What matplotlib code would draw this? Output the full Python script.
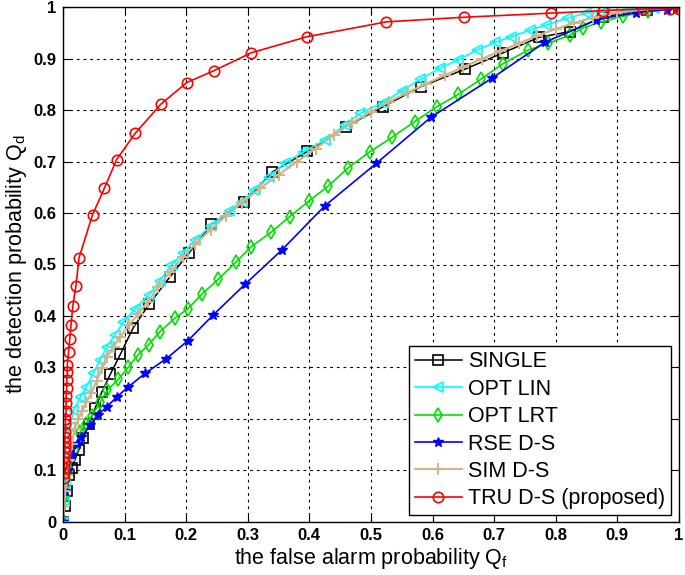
import numpy as np
import matplotlib
matplotlib.use("Agg")
import matplotlib.pyplot as plt

plt.rcParams['font.family'] = ['Liberation Sans', 'DejaVu Sans']
plt.rcParams['mathtext.fontset'] = 'custom'
plt.rcParams['mathtext.rm'] = 'Liberation Sans'
plt.rcParams['mathtext.it'] = 'Liberation Sans'

# ROC curves
single_x = [0, 0.003, 0.006, 0.01, 0.014, 0.019, 0.026, 0.033, 0.042, 0.052, 0.063, 0.077, 0.093,
            0.114, 0.14, 0.173, 0.205, 0.241, 0.294, 0.34, 0.397, 0.459, 0.52, 0.581, 0.653, 0.715,
            0.773, 0.823, 0.877, 0.948, 1.0]
single_y = [0, 0.03, 0.06, 0.09, 0.105, 0.119, 0.14, 0.163, 0.19, 0.22, 0.252, 0.287, 0.325,
            0.377, 0.423, 0.475, 0.523, 0.578, 0.621, 0.68, 0.72, 0.768, 0.807, 0.846, 0.88, 0.912,
            0.942, 0.953, 0.982, 0.995, 1.0]

optlin_x = [0, 0.001, 0.003, 0.006, 0.011, 0.017, 0.028, 0.038, 0.049, 0.06, 0.071, 0.084, 0.098,
            0.117, 0.139, 0.157, 0.176, 0.195, 0.215, 0.24, 0.27, 0.29, 0.31, 0.335, 0.36, 0.39,
            0.425, 0.458, 0.482, 0.52, 0.55, 0.58, 0.612, 0.642, 0.672, 0.701, 0.728, 0.758, 0.785,
            0.818, 0.85, 0.88, 0.92, 0.96, 1.0]
optlin_y = [0, 0.04, 0.074, 0.15, 0.184, 0.216, 0.242, 0.262, 0.288, 0.314, 0.34, 0.362, 0.388,
            0.414, 0.44, 0.468, 0.499, 0.522, 0.548, 0.575, 0.605, 0.622, 0.645, 0.67, 0.697, 0.719,
            0.742, 0.771, 0.794, 0.815, 0.838, 0.86, 0.882, 0.898, 0.917, 0.932, 0.943, 0.956, 0.966,
            0.979, 0.989, 0.993, 0.997, 0.999, 1.0]

optlrt_x = [0, 0.004, 0.01, 0.018, 0.028, 0.037, 0.047, 0.06, 0.072, 0.09, 0.106, 0.121, 0.139,
            0.157, 0.182, 0.203, 0.226, 0.252, 0.281, 0.306, 0.338, 0.368, 0.399, 0.431, 0.463,
            0.498, 0.535, 0.571, 0.607, 0.642, 0.679, 0.715, 0.755, 0.787, 0.823, 0.844, 0.874,
            0.91, 0.95, 1.0]
optlrt_y = [0, 0.05, 0.1, 0.14, 0.174, 0.19, 0.206, 0.232, 0.255, 0.277, 0.3, 0.323, 0.344,
            0.369, 0.396, 0.414, 0.443, 0.471, 0.505, 0.535, 0.563, 0.593, 0.623, 0.653, 0.688,
            0.719, 0.748, 0.778, 0.807, 0.831, 0.861, 0.891, 0.917, 0.93, 0.946, 0.96, 0.972,
            0.983, 0.993, 1.0]

rse_x = [0, 0.003, 0.008, 0.015, 0.022, 0.03, 0.044, 0.057, 0.071, 0.087, 0.106, 0.133, 0.168,
         0.203, 0.244, 0.296, 0.356, 0.425, 0.509, 0.597, 0.696, 0.782, 0.866, 0.93, 0.98, 1.0]
rse_y = [0, 0.06, 0.1, 0.13, 0.15, 0.164, 0.187, 0.208, 0.223, 0.242, 0.262, 0.288, 0.317,
         0.352, 0.402, 0.462, 0.529, 0.614, 0.697, 0.786, 0.862, 0.932, 0.976, 0.99, 0.996, 1.0]

sim_x = [0, 0.002, 0.004, 0.007, 0.01, 0.014, 0.019, 0.025, 0.031, 0.038, 0.046, 0.055, 0.063,
         0.071, 0.082, 0.093, 0.107, 0.122, 0.138, 0.155, 0.174, 0.195, 0.215, 0.24, 0.265, 0.29,
         0.32, 0.35, 0.38, 0.41, 0.44, 0.47, 0.5, 0.53, 0.56, 0.59, 0.62, 0.65, 0.68, 0.71, 0.74,
         0.77, 0.8, 0.83, 0.86, 0.9, 0.95, 1.0]
sim_y = [0, 0.03, 0.06, 0.09, 0.12, 0.15, 0.18, 0.2, 0.215, 0.233, 0.25, 0.274, 0.298,
         0.32, 0.34, 0.359, 0.382, 0.404, 0.428, 0.457, 0.486, 0.515, 0.54, 0.568, 0.595, 0.62,
         0.648, 0.675, 0.7, 0.725, 0.752, 0.776, 0.797, 0.817, 0.835, 0.852, 0.868, 0.884, 0.9,
         0.915, 0.93, 0.945, 0.958, 0.97, 0.98, 0.99, 0.997, 1.0]

tru_x = [0.001, 0.001, 0.002, 0.002, 0.002, 0.003, 0.003, 0.003, 0.003, 0.004, 0.004, 0.004,
         0.005, 0.005, 0.005, 0.006, 0.006, 0.007, 0.007, 0.009, 0.011, 0.013, 0.016, 0.021,
         0.026, 0.048, 0.067, 0.087, 0.117, 0.159, 0.201, 0.245, 0.306, 0.396, 0.525, 0.651,
         0.793, 0.877, 0.942, 0.985, 1.0]
tru_y = [0.085, 0.095, 0.105, 0.115, 0.125, 0.135, 0.145, 0.155, 0.165, 0.175, 0.19, 0.2,
         0.215, 0.23, 0.245, 0.26, 0.275, 0.29, 0.305, 0.33, 0.355, 0.383, 0.42, 0.459,
         0.513, 0.597, 0.648, 0.704, 0.755, 0.812, 0.854, 0.877, 0.912, 0.943, 0.972, 0.981,
         0.989, 0.994, 0.997, 0.998, 0.998]

fig = plt.figure(figsize=(6.85, 5.75), dpi=100)
ax = fig.add_axes([0.092, 0.093, 0.899, 0.894])

ax.plot(single_x, single_y, color='k', lw=1.1, marker='s', ms=7.5, mfc='none', mew=1.2, label='SINGLE')
ax.plot(optlin_x, optlin_y, color='#00ffff', lw=1.2, marker='<', ms=7.5, mfc='none', mew=1.2, label='OPT LIN')
ax.plot(optlrt_x, optlrt_y, color='#00e000', lw=1.2, marker='d', ms=7.5, mfc='none', mew=1.2, label='OPT LRT')
ax.plot(rse_x, rse_y, color='#0000ff', lw=1.2, marker='*', ms=7.5, mew=1.0, label='RSE D-S')
ax.plot(sim_x, sim_y, color='#d2b48c', lw=1.6, marker='+', ms=8, mew=1.4, label='SIM D-S')
ax.plot(tru_x, tru_y, color='#ff0000', lw=1.2, marker='o', ms=7.5, mfc='none', mew=1.2, label='TRU D-S (proposed)')

ax.set_xlim(0, 1)
ax.set_ylim(0, 1)
ticks = np.arange(0, 1.01, 0.1)
ax.set_xticks(ticks)
ax.set_yticks(ticks)
ax.set_xticklabels(['0'] + ['%.1f' % t for t in ticks[1:-1]] + ['1'])
ax.set_yticklabels(['0'] + ['%.1f' % t for t in ticks[1:-1]] + ['1'])
ax.tick_params(direction='in', top=True, right=True, length=5, labelsize=12, pad=5)
for lab in ax.get_xticklabels() + ax.get_yticklabels():
    lab.set_fontweight('bold')
ax.grid(True, color='k', linestyle=(0, (2.5, 3.5)), linewidth=0.8)
for s in ax.spines.values():
    s.set_linewidth(1.0)

ax.set_xlabel(r'the false alarm probability $\mathregular{Q_f}$', fontsize=15.5, labelpad=2)
ax.set_ylabel(r'the detection probability $\mathregular{Q_d}$', fontsize=15.5, labelpad=3)

leg = ax.legend(loc='lower right', bbox_to_anchor=(0.987, 0.013), fontsize=15.5, fancybox=False,
                framealpha=1, edgecolor='k', borderpad=0.25, labelspacing=0.3, handlelength=2.2,
                handletextpad=0.3, borderaxespad=0)
leg.get_frame().set_linewidth(1.0)

fig.savefig('out.png', dpi=100)
